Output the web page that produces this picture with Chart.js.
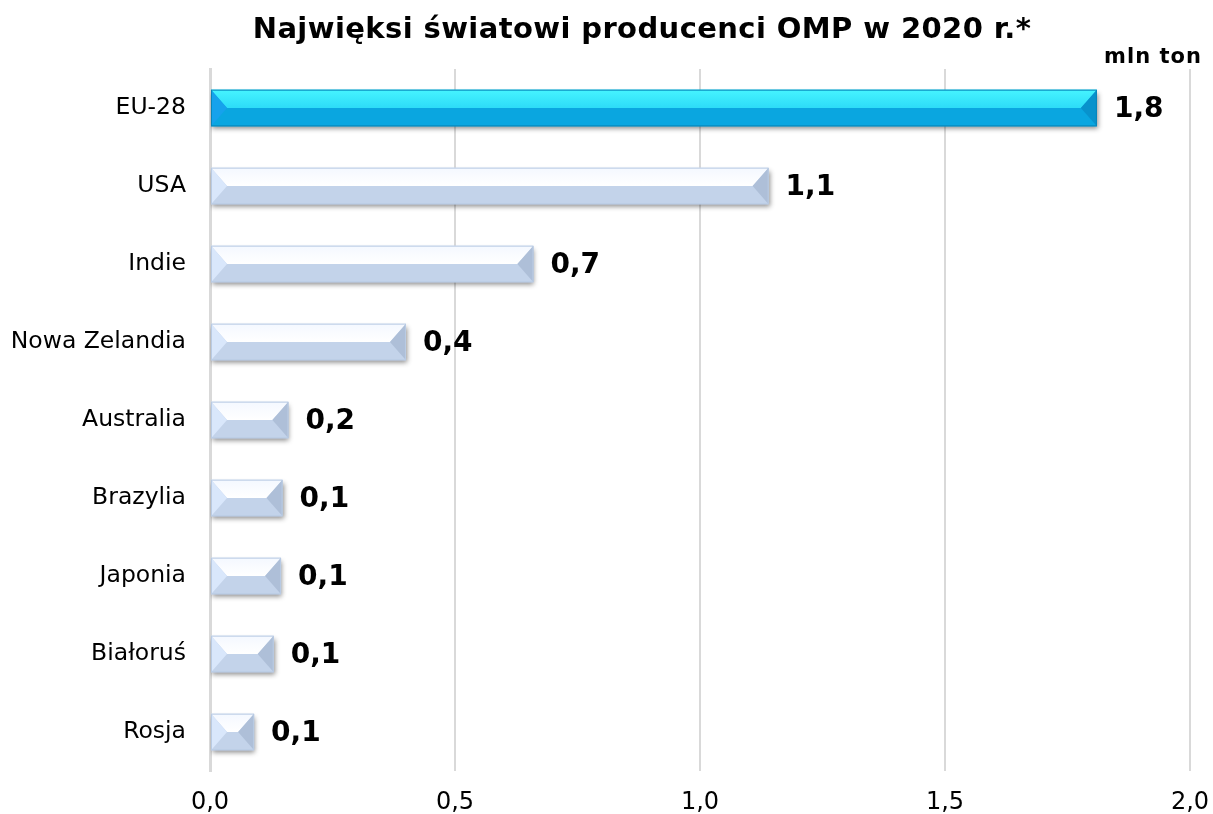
<!DOCTYPE html>
<html>
<head>
<meta charset="utf-8">
<script src="https://cdn.jsdelivr.net/npm/chart.js@4.4.1/dist/chart.umd.min.js"></script>
<style>
  html, body { margin: 0; padding: 0; background: #fff; }
  #wrap { width: 1213px; height: 814px; }
</style>
</head>
<body>
<div id="wrap"><canvas id="barChart"></canvas></div>
<script>
// chart data
const chartTitle = "Najwięksi światowi producenci OMP w 2020 r.*";
const unitLabel = "mln ton";
const categories = ["EU-28", "USA", "Indie", "Nowa Zelandia", "Australia", "Brazylia", "Japonia", "Białoruś", "Rosja"];
const production = [1.81, 1.14, 0.66, 0.40, 0.16, 0.148, 0.145, 0.13, 0.09];
const highlighted = ["EU-28"];
const xTicks = [0, 0.5, 1.0, 1.5, 2.0];

const FONT = "'DejaVu Sans', Verdana, sans-serif";
const fmt = v => v.toFixed(1).replace(".", ",");

// colours of the bevelled faces
const paleFaces = { top1: "#f4f8ff", top2: "#ffffff", bottom: "#c3d3ea", left: "#d9e7fb", right: "#aebfd8", edge: "#b9cbe4" };
const blueFaces = { top1: "#46f4ff", top2: "#2ddcf8", bottom: "#0aa6e0", left: "#16a2ec", right: "#0892cc", edge: "#0786bb" };

// shadow under the bars + bevel faces on top
const bevelPlugin = {
  id: "bevel",
  beforeDatasetDraw(chart) {
    const ctx = chart.ctx;
    ctx.save();
    ctx.shadowColor = "rgba(0,0,0,0.45)";
    ctx.shadowBlur = 5;
    ctx.shadowOffsetX = 1;
    ctx.shadowOffsetY = 3;
  },
  afterDatasetDraw(chart) {
    const ctx = chart.ctx;
    ctx.restore();
    const meta = chart.getDatasetMeta(0);
    meta.data.forEach((bar, i) => {
      const f = highlighted.includes(categories[i]) ? blueFaces : paleFaces;
      const L = bar.base, R = bar.x;
      const T = bar.y - bar.height / 2, B = bar.y + bar.height / 2;
      const M = bar.y;
      const b = Math.min(16, (R - L) / 2);
      ctx.save();
      // top face
      const g = ctx.createLinearGradient(0, T, 0, M);
      g.addColorStop(0, f.top1);
      g.addColorStop(1, f.top2);
      ctx.fillStyle = g;
      ctx.beginPath();
      ctx.moveTo(L, T); ctx.lineTo(R, T); ctx.lineTo(R - b, M); ctx.lineTo(L + b, M); ctx.closePath();
      ctx.fill();
      // bottom face
      ctx.fillStyle = f.bottom;
      ctx.beginPath();
      ctx.moveTo(L, B); ctx.lineTo(R, B); ctx.lineTo(R - b, M); ctx.lineTo(L + b, M); ctx.closePath();
      ctx.fill();
      // left face
      ctx.fillStyle = f.left;
      ctx.beginPath();
      ctx.moveTo(L, T); ctx.lineTo(L + b, M); ctx.lineTo(L, B); ctx.closePath();
      ctx.fill();
      // right face
      ctx.fillStyle = f.right;
      ctx.beginPath();
      ctx.moveTo(R, T); ctx.lineTo(R - b, M); ctx.lineTo(R, B); ctx.closePath();
      ctx.fill();
      // outline
      ctx.strokeStyle = f.edge;
      ctx.lineWidth = 1;
      ctx.strokeRect(L + 0.5, T + 0.5, R - L - 1, B - T - 1);
      ctx.restore();
    });
  }
};

// title, unit and value labels
const textPlugin = {
  id: "texts",
  afterDraw(chart) {
    const ctx = chart.ctx;
    ctx.save();
    ctx.fillStyle = "#000";
    ctx.textBaseline = "middle";
    ctx.textAlign = "center";
    ctx.font = "bold 29px " + FONT;
    ctx.letterSpacing = "0.4px";
    ctx.fillText(chartTitle, 642, 30);
    ctx.font = "bold 21px " + FONT;
    ctx.letterSpacing = "1px";
    ctx.fillText(unitLabel, 1153, 58);
    ctx.textAlign = "left";
    ctx.font = "bold 28px " + FONT;
    ctx.letterSpacing = "0px";
    const meta = chart.getDatasetMeta(0);
    meta.data.forEach((bar, i) => {
      ctx.fillText(fmt(production[i]), bar.x + 17, bar.y + 2);
    });
    ctx.restore();
  }
};

const ctx = document.getElementById("barChart").getContext("2d");
const barChart = new Chart(ctx, {
  type: "bar",
  data: {
    labels: categories,
    datasets: [{
      data: production,
      backgroundColor: categories.map(c => highlighted.includes(c) ? blueFaces.bottom : paleFaces.bottom),
      borderWidth: 0,
      barPercentage: 0.47,
      categoryPercentage: 1.0
    }]
  },
  options: {
    indexAxis: "y",
    responsive: true,
    maintainAspectRatio: false,
    animation: false,
    layout: { padding: { top: 69, left: 8, right: 0, bottom: 0 } },
    plugins: {
      legend: { display: false },
      title: { display: false },
      tooltip: { enabled: false }
    },
    scales: {
      x: {
        min: 0,
        max: 2,
        afterBuildTicks: axis => { axis.ticks = xTicks.map(v => ({ value: v })); },
        afterFit: axis => { axis.paddingRight = 23; axis.height = 43; },
        ticks: {
          font: { family: FONT, size: 24, lineHeight: 1.0 },
          color: "#000",
          padding: 20,
          maxRotation: 0,
          callback: v => fmt(v)
        },
        grid: { color: "#d9d9d9", lineWidth: 2, drawTicks: false },
        border: { display: false }
      },
      y: {
        afterFit: axis => { axis.width = 202; },
        ticks: {
          font: { family: FONT, size: 23.5 },
          color: "#000",
          padding: 24
        },
        grid: { display: false, drawTicks: false },
        border: { display: true, color: "#d9d9d9", width: 3 }
      }
    }
  },
  plugins: [bevelPlugin, textPlugin]
});
</script>
</body>
</html>
